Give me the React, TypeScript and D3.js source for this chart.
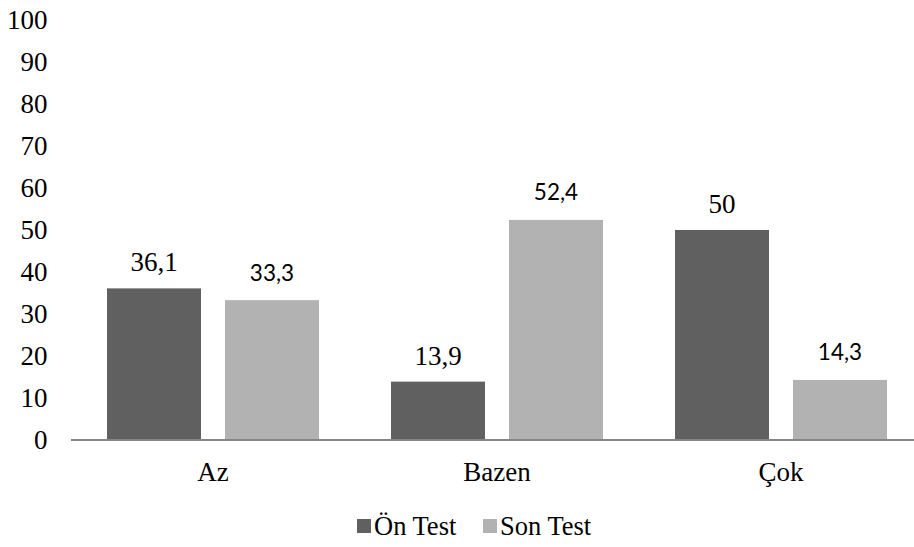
import React from "react";
import * as d3 from "d3";

const categories = ["Az", "Bazen", "Çok"];
const seriesNames = ["Ön Test", "Son Test"];
const onTest = [36.1, 13.9, 50];
const sonTest = [33.3, 52.4, 14.3];
const labelsOn = ["36,1", "13,9", "50"];
const labelsSon = ["33,3", "52,4", "14,3"];
const yTicks = [0, 10, 20, 30, 40, 50, 60, 70, 80, 90, 100];

const colors = ["#606060", "#b2b2b2"];
const serif = '"Liberation Serif", serif';
const sans = 'Lato, "Open Sans", sans-serif';

export default function App() {
  const W = 914;
  const H = 547;
  const x0 = d3.scaleBand<string>().domain(categories).range([71, 923]).padding(0);
  const x1 = d3
    .scaleBand<string>()
    .domain(seriesNames)
    .range([36, 248])
    .paddingInner(24 / 118)
    .paddingOuter(0);
  const y = d3.scaleLinear().domain([0, 100]).range([440, 20]);
  const values = [onTest, sonTest];
  const labels = [labelsOn, labelsSon];
  const serifStyle = { fontFamily: serif, fontSize: "27px" };
  const labelStyles = [
    { fontFamily: serif, fontSize: "27px" },
    { fontFamily: sans, fontSize: "22.5px" },
  ];
  const labelOffsets = [17, 19.5];

  return (
    <svg
      width={W}
      height={H}
      style={{ position: "absolute", left: 0, top: 0, background: "#fff" }}
    >
      {yTicks.map((t) => (
        <text
          key={t}
          x={47.5}
          y={y(t) + 8.5}
          textAnchor="end"
          style={serifStyle}
          fill="#000"
        >
          {t}
        </text>
      ))}
      {seriesNames.map((s, si) =>
        categories.map((c, ci) => {
          const bx = (x0(c) as number) + (x1(s) as number);
          const v = values[si][ci];
          return (
            <g key={s + c}>
              <rect
                x={bx}
                y={y(v)}
                width={x1.bandwidth()}
                height={y(0) - y(v)}
                fill={colors[si]}
              />
              <text
                x={bx + x1.bandwidth() / 2}
                y={y(v) - labelOffsets[si]}
                textAnchor="middle"
                style={labelStyles[si]}
                fill="#000"
              >
                {labels[si][ci]}
              </text>
            </g>
          );
        })
      )}
      <line x1={71} x2={914} y1={y(0)} y2={y(0)} stroke="#868686" strokeWidth={2} />
      {categories.map((c) => (
        <text
          key={c}
          x={(x0(c) as number) + x0.bandwidth() / 2}
          y={481}
          textAnchor="middle"
          style={serifStyle}
          fill="#000"
        >
          {c}
        </text>
      ))}
      {seriesNames.map((s, i) => {
        const lx = [357, 483][i];
        return (
          <g key={s}>
            <rect x={lx} y={519} width={14} height={14} fill={colors[i]} />
            <text
              x={lx + 17}
              y={535}
              style={{ fontFamily: serif, fontSize: "26.5px" }}
              fill="#000"
            >
              {s}
            </text>
          </g>
        );
      })}
    </svg>
  );
}
